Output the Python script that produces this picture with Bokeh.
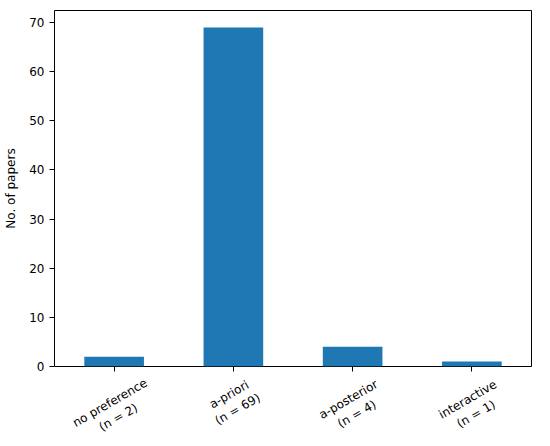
from bokeh.plotting import figure
from bokeh.models import FactorRange, Range1d, FixedTicker, ColumnDataSource
from bokeh.layouts import column
from bokeh.core.properties import value
from bokeh.embed import file_html
from bokeh.resources import INLINE
import math

# data
categories = ["no preference", "a-priori", "a-posterior", "interactive"]
counts = [2, 69, 4, 1]
tick_labels = ["no preference\n(n = 2)", "a-priori\n(n = 69)", "a-posterior\n(n = 4)", "interactive\n(n = 1)"]
y_ticks = [0, 10, 20, 30, 40, 50, 60, 70]

FONT = "DejaVu Sans"
W = 550
LEFT, RIGHT = 54, 19

xr = FactorRange(*categories, range_padding=0, factor_padding=0)

p = figure(width=W, height=376, x_range=xr,
           y_range=Range1d(0, max(counts) * 1.05), output_backend="svg", toolbar_location=None,
           min_border_left=LEFT, min_border_right=RIGHT, min_border_top=10, min_border_bottom=10)
p.vbar(x=categories, top=counts, width=0.5, fill_color="#1f77b4", line_color=None)

p.xgrid.visible = False
p.ygrid.visible = False
p.outline_line_color = "black"
p.outline_line_alpha = 1
p.outline_line_width = 1

for ax in (p.xaxis[0], p.yaxis[0]):
    ax.major_label_text_font = FONT
    ax.major_label_text_font_size = "12px"
    ax.major_label_text_color = "black"
    ax.axis_line_color = None
    ax.major_tick_line_color = "black"
    ax.major_tick_out = 5
    ax.major_tick_in = 0
    ax.minor_tick_line_color = None

yax = p.yaxis[0]
yax.ticker = FixedTicker(ticks=y_ticks)
yax.axis_label = "No. of papers"
yax.axis_label_text_font = FONT
yax.axis_label_text_font_size = "12px"
yax.axis_label_text_font_style = "normal"
yax.axis_label_text_color = "black"
yax.axis_label_standoff = 8
yax.major_label_standoff = 5

xax = p.xaxis[0]
xax.major_label_text_font_size = "0px"
xax.major_label_text_alpha = 0
xax.major_label_standoff = 0

# strip below the plot holding the rotated, centred two-line category labels
# (matplotlib style: rotated bounding box centred under each tick)
ang = math.radians(30)
char_w = 6.6
line_h = 14
pad = 10
offsets = []
for lab in tick_labels:
    lines = lab.split("\n")
    w = max(len(s) for s in lines) * char_w
    h = line_h * len(lines)
    offsets.append(-(pad + (w * math.sin(ang) + h * math.cos(ang)) / 2))

strip = figure(width=W, height=70, x_range=xr, y_range=Range1d(-80, -10),
               output_backend="svg", toolbar_location=None,
               x_axis_type=None, y_axis_type=None,
               min_border_left=LEFT, min_border_right=RIGHT, min_border_top=0, min_border_bottom=0)
strip.outline_line_color = None
strip.xgrid.visible = False
strip.ygrid.visible = False
src = ColumnDataSource(dict(x=categories, y=offsets, text=tick_labels))
strip.text(x="x", y="y", text="text", source=src, angle=ang,
           text_align="center", text_baseline="middle",
           text_font=value(FONT), text_font_size="12px", text_color="black",
           text_line_height=1.2)

layout = column(p, strip, spacing=0)
open("out.html", "w").write(file_html(layout, INLINE))
